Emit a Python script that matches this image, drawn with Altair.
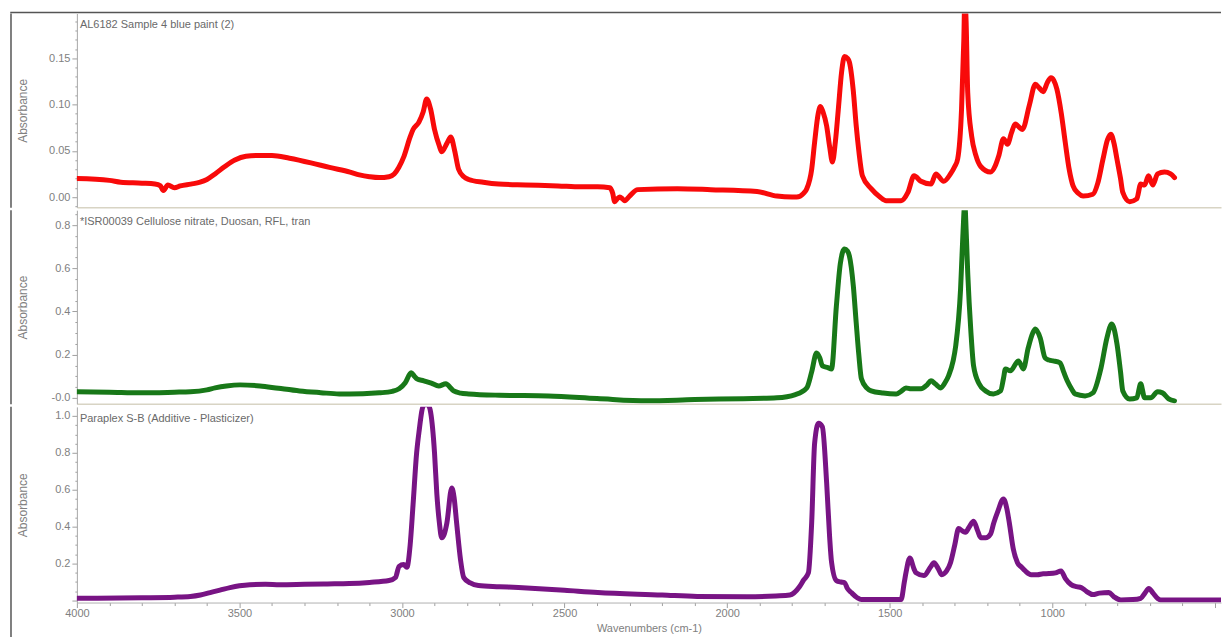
import altair as alt
import pandas as pd

# ---------------- data ----------------
red_wn = [4000, 3900, 3865, 3800, 3760, 3743, 3734, 3720, 3700, 3682, 3650, 3621, 3600, 3575, 3545,
          3514, 3480, 3437, 3400, 3346, 3280, 3223, 3160, 3131, 3100, 3070, 3040, 3024, 3010, 2994,
          2975, 2966, 2948, 2935, 2924, 2912, 2900, 2885, 2878, 2862, 2850, 2838, 2826, 2810, 2795,
          2750, 2703, 2620, 2520, 2450, 2398, 2361, 2352, 2346, 2338, 2330, 2322, 2315, 2300, 2275,
          2153, 2050, 1908, 1847, 1800, 1786, 1765, 1755, 1740, 1731, 1720, 1713, 1705, 1694, 1685,
          1676, 1667, 1658, 1648, 1639, 1630, 1624, 1612, 1603, 1595, 1584, 1557, 1530, 1511, 1465,
          1444, 1425, 1404, 1373, 1358, 1334, 1313, 1300, 1291, 1279, 1272, 1269, 1265, 1260, 1248,
          1235, 1220, 1190, 1175, 1165, 1150, 1138, 1125, 1114, 1100, 1092, 1070, 1052, 1040, 1028,
          1015, 1004, 995, 986, 972, 960, 948, 936, 920, 905, 875, 860, 844, 830, 820,
          810, 801, 790, 783, 762, 740, 728, 716, 704, 691, 676, 655, 636, 624]
red_abs = [0.020, 0.018, 0.016, 0.015, 0.014, 0.012, 0.007, 0.013, 0.010, 0.012, 0.014, 0.016, 0.019, 0.025, 0.033,
           0.040, 0.044, 0.045, 0.045, 0.042, 0.037, 0.032, 0.027, 0.024, 0.022, 0.021, 0.022, 0.025, 0.032, 0.044,
           0.065, 0.073, 0.081, 0.092, 0.106, 0.095, 0.073, 0.055, 0.049, 0.058, 0.065, 0.050, 0.030, 0.022, 0.019,
           0.016, 0.014, 0.013, 0.012, 0.011, 0.011, 0.010, 0.004, -0.005, -0.002, 0.000, -0.002, -0.004, 0.001, 0.008,
           0.009, 0.008, 0.006, 0.001, 0.000, 0.000, 0.004, 0.009, 0.030, 0.059, 0.090, 0.098, 0.092, 0.077, 0.055,
           0.038, 0.060, 0.095, 0.135, 0.152, 0.150, 0.146, 0.115, 0.077, 0.050, 0.023, 0.009, 0.000, -0.004, -0.004,
           0.005, 0.023, 0.017, 0.014, 0.025, 0.017, 0.025, 0.033, 0.041, 0.095, 0.170, 0.215, 0.190, 0.113, 0.066,
           0.045, 0.033, 0.027, 0.034, 0.044, 0.063, 0.057, 0.070, 0.079, 0.075, 0.073, 0.100, 0.122, 0.118, 0.114,
           0.124, 0.129, 0.126, 0.117, 0.090, 0.059, 0.030, 0.012, 0.004, 0.001, 0.003, 0.015, 0.041, 0.062, 0.068,
           0.058, 0.041, 0.020, 0.005, -0.005, -0.002, 0.014, 0.013, 0.023, 0.013, 0.025, 0.027, 0.025, 0.021]

green_wn = [4000, 3900, 3804, 3700, 3651, 3600, 3575, 3540, 3498, 3437, 3380, 3315, 3250, 3193, 3120,
            3070, 3030, 3009, 2990, 2972, 2962, 2954, 2933, 2910, 2887, 2865, 2850, 2841, 2820, 2795,
            2700, 2550, 2400, 2245, 2100, 1950, 1847, 1790, 1755, 1740, 1725, 1715, 1707, 1690, 1679,
            1664, 1652, 1639, 1630, 1624, 1612, 1603, 1595, 1587, 1570, 1557, 1520, 1480, 1465, 1450,
            1434, 1404, 1385, 1373, 1360, 1343, 1330, 1319, 1305, 1297, 1282, 1275, 1269, 1265, 1260,
            1250, 1242, 1225, 1205, 1181, 1159, 1150, 1144, 1129, 1104, 1089, 1074, 1060, 1052, 1037,
            1022, 1010, 997, 976, 965, 954, 940, 930, 899, 875, 850, 832, 817, 801, 790,
            783, 762, 740, 728, 716, 697, 676, 661, 642, 624]
green_abs = [0.028, 0.026, 0.023, 0.026, 0.028, 0.037, 0.046, 0.055, 0.060, 0.055, 0.044, 0.032, 0.024, 0.018, 0.019,
             0.023, 0.030, 0.042, 0.070, 0.116, 0.100, 0.088, 0.079, 0.068, 0.055, 0.065, 0.045, 0.032, 0.022, 0.018,
             0.012, 0.009, -0.003, -0.014, -0.008, -0.004, 0.000, 0.015, 0.046, 0.120, 0.208, 0.185, 0.148, 0.140, 0.134,
             0.425, 0.620, 0.689, 0.680, 0.657, 0.520, 0.347, 0.200, 0.088, 0.045, 0.032, 0.022, 0.018, 0.030, 0.046,
             0.042, 0.042, 0.060, 0.079, 0.065, 0.046, 0.070, 0.102, 0.170, 0.240, 0.504, 0.750, 0.900, 0.780, 0.578,
             0.300, 0.148, 0.065, 0.032, 0.018, 0.032, 0.090, 0.134, 0.125, 0.171, 0.134, 0.231, 0.300, 0.319, 0.277,
             0.185, 0.175, 0.171, 0.162, 0.120, 0.079, 0.040, 0.018, 0.009, 0.023, 0.139, 0.277, 0.342, 0.250, 0.120,
             0.032, -0.005, 0.000, 0.065, 0.000, 0.000, 0.028, 0.023, -0.005, -0.014]

purple_wn = [4000, 3800, 3700, 3651, 3620, 3590, 3560, 3529, 3500, 3468, 3420, 3376, 3300, 3230, 3162,
             3100, 3040, 3020, 3009, 2995, 2985, 2975, 2966, 2955, 2948, 2933, 2920, 2912, 2900, 2893,
             2885, 2878, 2870, 2862, 2847, 2840, 2832, 2820, 2810, 2790, 2765, 2700, 2642, 2500, 2398,
             2200, 2092, 1939, 1850, 1807, 1777, 1765, 1750, 1740, 1731, 1719, 1707, 1694, 1685, 1679,
             1664, 1650, 1639, 1630, 1618, 1600, 1587, 1465, 1455, 1450, 1438, 1425, 1419, 1395, 1375,
             1364, 1350, 1340, 1325, 1313, 1300, 1288, 1275, 1267, 1255, 1242, 1230, 1220, 1205, 1190,
             1180, 1168, 1150, 1140, 1132, 1120, 1107, 1094, 1083, 1065, 1046, 1028, 1010, 990, 973,
             960, 942, 925, 911, 895, 875, 855, 826, 810, 789, 752, 728, 715, 703, 690,
             675, 667, 600, 500, 481]
purple_abs = [0.012, 0.015, 0.018, 0.022, 0.030, 0.043, 0.056, 0.070, 0.080, 0.086, 0.088, 0.086, 0.088, 0.090, 0.092,
              0.098, 0.108, 0.125, 0.185, 0.195, 0.180, 0.300, 0.520, 0.800, 0.910, 1.060, 1.060, 1.020, 0.800, 0.580,
              0.420, 0.340, 0.360, 0.420, 0.610, 0.560, 0.420, 0.220, 0.124, 0.095, 0.081, 0.075, 0.070, 0.055, 0.043,
              0.030, 0.022, 0.020, 0.025, 0.030, 0.076, 0.110, 0.150, 0.420, 0.850, 0.960, 0.940, 0.640, 0.350, 0.210,
              0.108, 0.100, 0.097, 0.065, 0.043, 0.015, 0.005, 0.005, 0.100, 0.150, 0.230, 0.170, 0.150, 0.135, 0.180,
              0.205, 0.170, 0.140, 0.160, 0.205, 0.300, 0.390, 0.375, 0.370, 0.400, 0.430, 0.380, 0.340, 0.340, 0.360,
              0.420, 0.480, 0.550, 0.500, 0.420, 0.280, 0.205, 0.180, 0.160, 0.140, 0.140, 0.145, 0.146, 0.150, 0.160,
              0.120, 0.086, 0.075, 0.070, 0.050, 0.032, 0.040, 0.043, 0.020, 0.003, 0.005, 0.012, 0.040, 0.065, 0.040,
              0.010, 0.003, 0.003, 0.003, 0.003]

labels = ["AL6182 Sample 4 blue paint (2)",
          "*ISR00039 Cellulose nitrate, Duosan, RFL, tran",
          "Paraplex S-B (Additive - Plasticizer)"]
colors = ["#f80a0a", "#187818", "#781484"]

x_ticks = list(range(500, 4001, 100))
top_ticks = [round(i * 0.01, 2) for i in range(-1, 20)]
mid_ticks = [round(i * 0.05, 2) for i in range(0, 18)]
bot_ticks = [round(i * 0.05, 2) for i in range(0, 21)]

# ---------------- styling ----------------
W = 1146
X_DOMAIN = [4000, 481]
FONT = "Liberation Sans"
GRAY = "#808080"
SEP = "#d8d4c4"
FRAME = "#555555"


def panel(wn, ab, color, label, domain, ticks, label_expr, major_test, height, bottom):
    df = pd.DataFrame({"wn": wn, "abs": ab})
    if bottom:
        xaxis = alt.Axis(values=x_ticks,
                         labelExpr="datum.value % 500 == 0 && datum.value >= 1000 ? '' + datum.value : ''",
                         tickSize={"condition": {"test": "datum.value % 500 == 0", "value": 5}, "value": 3},
                         title="Wavenumbers (cm-1)", titleFont=FONT, titleFontSize=11,
                         titleFontWeight="normal", titleColor=GRAY, titlePadding=4,
                         labelFont=FONT, labelFontSize=11, labelColor=GRAY, labelPadding=0,
                         domainColor="#b0b0b0", tickColor="#a0a0a0", grid=False, labelFlush=False)
    else:
        xaxis = alt.Axis(labels=False, ticks=False, title=None, domainColor=SEP,
                         domainWidth=1.5, grid=False, minExtent=0, maxExtent=0)
    yaxis = alt.Axis(values=ticks, labelExpr=label_expr,
                     tickSize={"condition": {"test": major_test, "value": 5}, "value": 2},
                     title="Absorbance", titleX=-54, titleY=height / 2, titleAngle=270,
                     titleBaseline="middle", titleFont=FONT, titleFontSize=12,
                     titleFontWeight="normal", titleColor=GRAY,
                     labelFont=FONT, labelFontSize=11, labelColor=GRAY, labelPadding=2,
                     domainColor="#a8a8a8", tickColor="#a0a0a0", grid=False)
    line = alt.Chart(df).mark_line(
        color=color, strokeWidth=5, clip=True, interpolate="monotone",
        strokeCap="round", strokeJoin="round"
    ).encode(
        x=alt.X("wn:Q", scale=alt.Scale(domain=X_DOMAIN, nice=False, zero=False), axis=xaxis),
        y=alt.Y("abs:Q", scale=alt.Scale(domain=domain, nice=False, zero=False), axis=yaxis),
    )
    txt = alt.Chart(pd.DataFrame({"t": [label]})).mark_text(
        align="left", baseline="middle", font=FONT, fontSize=11, color="#6a6a6a"
    ).encode(x=alt.value(3), y=alt.value(12), text="t:N")
    left = alt.Chart(pd.DataFrame({"a": [0]})).mark_rule(
        color=FRAME, strokeWidth=1.5, clip=False
    ).encode(x=alt.value(-66), y=alt.value(0), y2=alt.value(height + (40 if bottom else 0.5)))
    layers = [line, txt, left]
    return alt.layer(*layers).properties(width=W, height=height)


top = panel(red_wn, red_abs, colors[0], labels[0], [-0.011, 0.1985], top_ticks,
            "round(datum.value*100) % 5 == 0 && datum.value >= 0 ? format(datum.value, '.2f') : ''",
            "round(datum.value*100) % 5 == 0", 194, False)
frame_top = alt.Chart(pd.DataFrame({"a": [0]})).mark_rule(
    color=FRAME, strokeWidth=1.5, clip=False
).encode(x=alt.value(-66.75), x2=alt.value(W), y=alt.value(-1))
top = alt.layer(top, frame_top)

mid = panel(green_wn, green_abs, colors[1], labels[1], [-0.028, 0.869], mid_ticks,
            "round(datum.value*100) % 20 == 0 ? (datum.value == 0 ? '-0.0' : format(datum.value, '.1f')) : ''",
            "round(datum.value*100) % 20 == 0", 194, False)

bot = panel(purple_wn, purple_abs, colors[2], labels[2], [-0.011, 1.049], bot_ticks,
            "round(datum.value*100) % 20 == 0 && datum.value > 0 ? format(datum.value, '.1f') : ''",
            "round(datum.value*100) % 20 == 0", 196, True)

chart = alt.vconcat(top, mid, bot, spacing=0).properties(
    padding={"left": 1, "top": 3, "right": 0, "bottom": 0},
    background="white"
).configure_view(stroke=None)

chart.save("out.html", embed_options={"renderer": "svg", "actions": False})
